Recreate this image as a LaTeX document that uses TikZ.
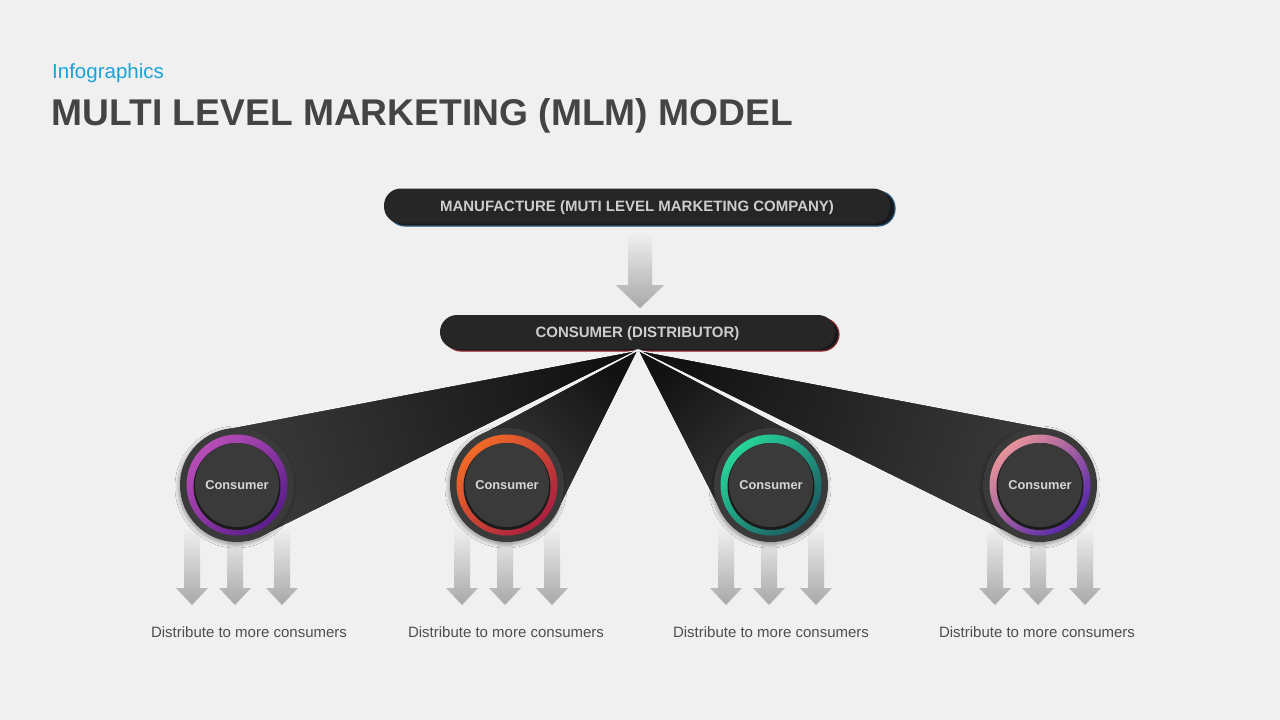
\documentclass[tikz,border=0pt]{standalone}
\usepackage{fontspec}
\setmainfont{Liberation Sans}
\usetikzlibrary{calc,shadows.blur}

\definecolor{slidebg}{HTML}{F0F0F0}
\definecolor{titlegray}{HTML}{444444}
\definecolor{infoblue}{HTML}{1BA3D8}
\definecolor{barblack}{HTML}{262626}
\definecolor{bartext}{HTML}{CDCDCD}
\definecolor{edgeblack}{HTML}{16191E}
\definecolor{edgeblue}{HTML}{2A5C80}
\definecolor{edgered}{HTML}{8C2A2A}
\definecolor{fandark}{HTML}{121212}
\definecolor{discgray}{HTML}{3A3A3A}
\definecolor{innerrim}{HTML}{1B1B1B}
\definecolor{hubtextgray}{HTML}{D6D6D6}
\definecolor{labelgray}{HTML}{4E4E4E}
\definecolor{arrowgray}{HTML}{A8A8A8}

\definecolor{purpleA}{HTML}{B84DB8}
\definecolor{purpleB}{HTML}{5A1E8A}
\definecolor{orangeA}{HTML}{F06A28}
\definecolor{orangeB}{HTML}{A8203E}
\definecolor{greenA}{HTML}{28D49A}
\definecolor{greenB}{HTML}{1A5C62}
\definecolor{pinkA}{HTML}{E6939A}
\definecolor{pinkB}{HTML}{5526A8}

\tikzset{
  levelbar/.style={rounded corners=17pt, fill=barblack, text=bartext,
    font=\fontsize{15}{18}\selectfont\bfseries, inner sep=0pt,
    text height=10.8pt, text depth=0pt},
  hub/.style={circle, minimum size=114pt, inner sep=0pt},
  fan/.style={draw=white, line width=0.8pt, top color=fandark, bottom color=discgray},
  hubtext/.style={text=hubtextgray, font=\fontsize{12.8}{15}\selectfont\bfseries},
  spreadlabel/.style={text=labelgray, font=\fontsize{15}{18}\selectfont},
  pics/blockarrow/.style n args={4}{code={
    \shade[top color=slidebg, bottom color=arrowgray]
      (-#3,0) -- (#3,0) -- (#3,#1) -- (#4,#1) -- (0,#1+#2) -- (-#4,#1) -- (-#3,#1) -- cycle;
  }},
}

\begin{document}
\begin{tikzpicture}[x=1pt,y=-1pt]
\fill[slidebg] (0,0) rectangle (1280,720);
\useasboundingbox (0,0) rectangle (1280,720);

\node[anchor=base west, inner sep=0pt, text=infoblue, font=\fontsize{20.5}{24}\selectfont] (kicker) at (52,78) {Infographics};
\node[anchor=base west, inner sep=0pt, text=titlegray, font=\fontsize{37.2}{44}\selectfont\bfseries] (title) at (51.5,125) {MULTI LEVEL MARKETING (MLM) MODEL};

% company bar
\filldraw[fill=edgeblack, draw=edgeblue, line width=1.2pt, rounded corners=17pt] (388,191) rectangle (895,226);
\node[levelbar, minimum width=506pt, minimum height=35pt] (manu) at (637,206) {MANUFACTURE (MUTI LEVEL MARKETING COMPANY)};
\pic at ($(manu.south)+(3,8.5)$) {blockarrow={53}{23}{12}{24}};

% distributor bar
\filldraw[fill=edgeblack, draw=edgered, line width=1.2pt, rounded corners=17pt] (444,318) rectangle (839,351);
\node[levelbar, minimum width=395pt, minimum height=34pt] (dist) at (637.5,332) {CONSUMER (DISTRIBUTOR)};
\coordinate (apex) at ($(dist.south)+(0.5,1)$);

% consumers
\path (237,485) node[hub] (c1) {}
      (507,485) node[hub] (c2) {}
      (771,485) node[hub] (c3) {}
      (1040,485) node[hub] (c4) {};

\foreach \c in {c1,c2,c3,c4}
  \foreach \dx in {-45,-2,45}
    \pic at ($(\c)+(\dx,43)$) {blockarrow={60}{17}{8}{16}};

\foreach \c/\ang in {c1/-71.5, c4/71.4, c2/-44.6, c3/44}
  \path[fan, shading angle=\ang] (apex) -- (tangent cs:node=\c,point={(apex)},solution=1)
    -- (tangent cs:node=\c,point={(apex)},solution=2) -- cycle;

\foreach \c/\ca/\cb in {c1/purpleA/purpleB, c2/orangeA/orangeB, c3/greenA/greenB, c4/pinkA/pinkB}{
  \fill[discgray, blur shadow={shadow xshift=-1pt, shadow yshift=-2pt, shadow blur radius=4pt, shadow blur steps=12, shadow opacity=40}] (\c) circle[radius=57];
  \shade[top color=\ca, bottom color=\cb, shading angle=45] (\c) circle[radius=50.5];
  \fill[innerrim] ($(\c)+(0,1.5)$) circle[radius=43.5];
  \fill[discgray] (\c) circle[radius=42];
}

\node[hubtext] (t1) at (c1) {Consumer};
\node[hubtext] (t2) at (c2) {Consumer};
\node[hubtext] (t3) at (c3) {Consumer};
\node[hubtext] (t4) at (c4) {Consumer};

\node[spreadlabel] (d1) at (249,632) {Distribute to more consumers};
\node[spreadlabel] (d2) at (506,632) {Distribute to more consumers};
\node[spreadlabel] (d3) at (771,632) {Distribute to more consumers};
\node[spreadlabel] (d4) at (1037,632) {Distribute to more consumers};
\end{tikzpicture}
\end{document}
